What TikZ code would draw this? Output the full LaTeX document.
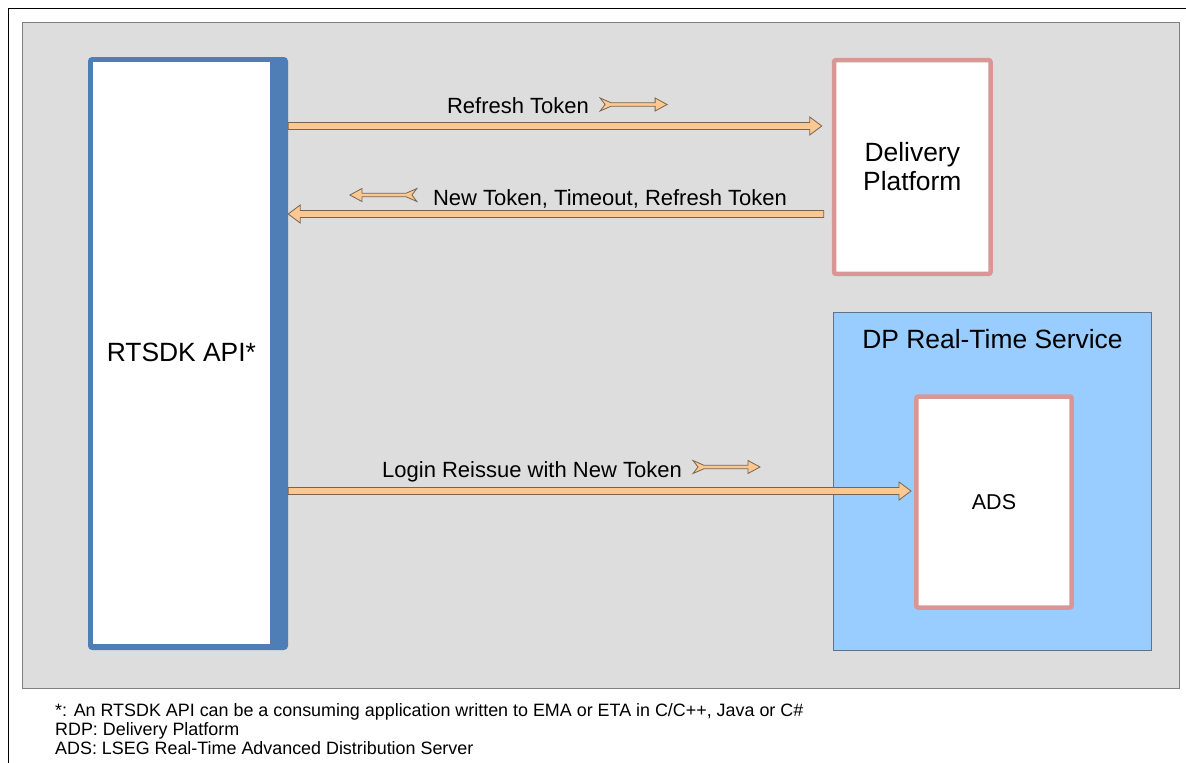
\documentclass[tikz,border=0pt]{standalone}
\usepackage{fontspec}
\setmainfont{Liberation Sans}
\usetikzlibrary{calc,positioning}

\definecolor{sdkblue}{RGB}{79,125,181}
\definecolor{dppink}{RGB}{217,150,148}
\definecolor{rtblue}{RGB}{153,204,255}
\definecolor{rtline}{RGB}{95,115,140}
\definecolor{panelgray}{RGB}{221,221,221}
\definecolor{tokenfill}{RGB}{252,200,145}
\definecolor{tokenline}{RGB}{120,100,80}

\tikzset{
  pinkbox/.style={draw=dppink, line width=4.5pt, fill=white, rounded corners=2pt, inner sep=0pt},
  bigtext/.style={font=\fontsize{26.4}{29}\selectfont, align=center},
  lbltext/.style={font=\fontsize{22}{25}\selectfont, inner sep=0pt},
  fattoken/.style={fill=tokenfill, draw=tokenline, line width=0.8pt, line join=miter},
  pics/tokenflag/.style={code={
    \draw[fattoken] (0,6.5) -- (11,1.7) -- (55,1.7) -- (55,6.5) -- (67,0) -- (55,-6.5)
      -- (55,-1.7) -- (11,-1.7) -- (0,-6.5) -- (5,0) -- cycle;
  }},
}

% thick arrow from #1 to #2
\newcommand{\fatarrow}[2]{%
  \coordinate (fa-h) at ($(#2)!12pt!(#1)$);
  \draw[fattoken] ($(#1)!3.5pt!90:(#2)$) -- ($(fa-h)!3.5pt!-90:(#1)$) -- ($(fa-h)!9pt!-90:(#1)$)
    -- (#2) -- ($(fa-h)!9pt!90:(#1)$) -- ($(fa-h)!3.5pt!90:(#1)$) -- ($(#1)!3.5pt!-90:(#2)$) -- cycle;}

\begin{document}
\begin{tikzpicture}[x=1pt, y=-1pt]
    \useasboundingbox (0,0) rectangle (1186,763);
    \draw[line width=1.3pt] (8.3,763) -- (8.3,8.3) -- (1186,8.3);
    \node[draw=gray, fill=panelgray, line width=0.8pt, inner sep=0pt, minimum width=1157, minimum height=666, anchor=north west] (panel) at (22,22) {};

    % boxes
    \node[fill=sdkblue, rounded corners=4pt, minimum width=200, minimum height=593] (rtsdk) at (188,353.5) {};
    \node[fill=white, inner sep=0pt, minimum width=177.3, minimum height=581.5, bigtext] (rtsdkin) at (181.4,352.8) {RTSDK API*};
    \node[pinkbox, minimum width=156.5, minimum height=213.8, bigtext] (dp) at (912.3,167) {Delivery\\Platform};
    \node[draw=rtline, fill=rtblue, line width=0.8pt, minimum width=318.4, minimum height=338.4] (rts) at (992.5,481.5) {};
    \node[bigtext, inner sep=0pt] (rtstitle) at (992.5,339) {DP Real-Time Service};
    \node[pinkbox, minimum width=155.4, minimum height=211, font=\fontsize{21.5}{25}\selectfont] (ads) at (994,502) {ADS};

    % token flow
    \coordinate (refresh-a) at (rtsdk.east |- 0,126);
    \coordinate (refresh-b) at ($(dp.west |- 0,126)+(-10,0)$);
    \coordinate (newtok-a) at ($(dp.west |- 0,214)+(-8,0)$);
    \coordinate (newtok-b) at (rtsdk.east |- 0,214);
    \coordinate (login-a) at (rtsdk.east |- 0,491);
    \coordinate (login-b) at ($(ads.west |- 0,491)+(-3,0)$);
    \fatarrow{refresh-a}{refresh-b}
    \fatarrow{newtok-a}{newtok-b}
    \fatarrow{login-a}{login-b}

    \node[lbltext] (refresh) at (518,106) {Refresh Token};
    \node[lbltext] (newtok) at (610,199) {New Token, Timeout, Refresh Token};
    \node[lbltext] (login) at (532,472) {Login Reissue with New Token};
    \pic at ($(refresh.east)+(11,-1.5)$) {tokenflag};
    \pic[xscale=-1] at ($(newtok.west)+(-16,-4)$) {tokenflag};
    \pic at ($(login.east)+(11,-5)$) {tokenflag};

    %notes
    \node[anchor=north west, inner sep=0pt, align=left, font=\fontsize{17.9}{19}\selectfont] (notes) at (55,703.5)
      {*: An RTSDK API can be a consuming application written to EMA or ETA in C/C++, Java or C\#\\
       RDP: Delivery Platform\\
       ADS: LSEG Real-Time Advanced Distribution Server};
\end{tikzpicture}
\end{document}
